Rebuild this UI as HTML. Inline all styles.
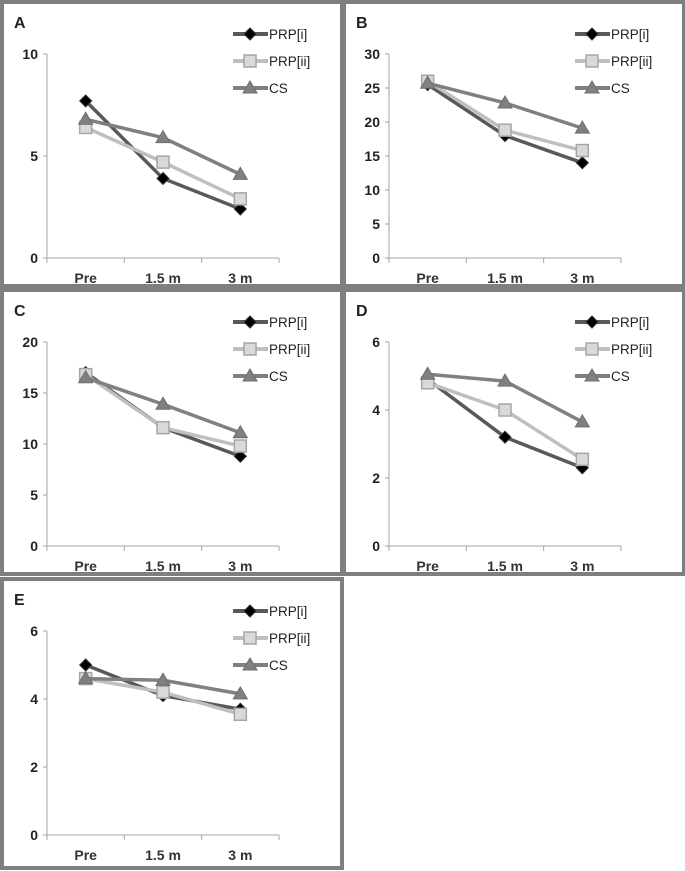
<!DOCTYPE html>
<html><head><meta charset="utf-8"><style>
body{margin:0;background:#fff;}
svg{display:block;font-family:"Liberation Sans",sans-serif;}
</style></head><body>
<svg id="chart" width="685" height="871" viewBox="0 0 685 871" xmlns="http://www.w3.org/2000/svg"></svg>
<script>
const categories = ["Pre", "1.5 m", "3 m"];
const seriesNames = ["PRP[i]", "PRP[ii]", "CS"];
const panelLabels = ["A", "B", "C", "D", "E"];
const yMaxes = [10, 30, 20, 6, 6];
const yStepsA = [0, 5, 10];
const yStepsB = [0, 5, 10, 15, 20, 25, 30];
const yStepsC = [0, 5, 10, 15, 20];
const yStepsD = [0, 2, 4, 6];
const yStepsE = [0, 2, 4, 6];
const prpI_A = [7.7, 3.9, 2.4], prpII_A = [6.4, 4.7, 2.9], cs_A = [6.8, 5.9, 4.1];
const prpI_B = [25.5, 18, 14], prpII_B = [26, 18.8, 15.8], cs_B = [25.7, 22.8, 19.1];
const prpI_C = [17, 11.6, 8.8], prpII_C = [16.8, 11.6, 9.8], cs_C = [16.5, 13.9, 11.1];
const prpI_D = [4.9, 3.2, 2.3], prpII_D = [4.8, 4.0, 2.55], cs_D = [5.05, 4.85, 3.65];
const prpI_E = [5.0, 4.1, 3.7], prpII_E = [4.6, 4.2, 3.55], cs_E = [4.6, 4.55, 4.15];

const NS = "http://www.w3.org/2000/svg";
const svg = document.getElementById("chart");
function mk(tag, attrs, parent) {
  const e = document.createElementNS(NS, tag);
  for (const k in attrs) e.setAttribute(k, attrs[k]);
  (parent || svg).appendChild(e);
  return e;
}
const panels = [
  {ox:0, oy:0, ticks:yStepsA, data:[prpI_A, prpII_A, cs_A]},
  {ox:342, oy:0, ticks:yStepsB, data:[prpI_B, prpII_B, cs_B]},
  {ox:0, oy:288, ticks:yStepsC, data:[prpI_C, prpII_C, cs_C]},
  {ox:342, oy:288, ticks:yStepsD, data:[prpI_D, prpII_D, cs_D]},
  {ox:0, oy:577, ticks:yStepsE, data:[prpI_E, prpII_E, cs_E]},
];
const lineCol = ["#595959", "#bfbfbf", "#808080"];

function marker(g, s, x, y) {
  let m;
  if (s === 0) m = mk("polygon", {points:`${x},${y-6} ${x+6},${y} ${x},${y+6} ${x-6},${y}`, fill:"#000", stroke:"#333","stroke-width":1}, g);
  else if (s === 1) m = mk("rect", {x:x-6, y:y-6, width:12, height:12, fill:"#d9d9d9", stroke:"#a6a6a6","stroke-width":1.5}, g);
  else m = mk("polygon", {points:`${x},${y-7} ${x+7},${y+5} ${x-7},${y+5}`, fill:"#808080", stroke:"#6e6e6e","stroke-width":1}, g);
  return m;
}

panels.forEach((p, pi) => {
  const g = mk("g", {transform:`translate(${p.ox},${p.oy})`});
  
  
  const frame = mk("rect", {x:2, y:2, width:340, height:(pi===4?289:284), fill:"none", stroke:"#7f7f7f", "stroke-width":4}, g);
  
  
  const lab = mk("text", {x:14, y:28, "font-size":16, "font-weight":"bold", fill:"#222"}, g);
  lab.textContent = panelLabels[pi];
  
  
  const ax0 = 47, ax1 = 279, y0 = 258, y1 = 54;
  const ymax = yMaxes[pi];
  const Y = v => y0 - (v / ymax) * (y0 - y1);
  const bw = (ax1 - ax0) / categories.length;
  const X = i => ax0 + bw * (i + 0.5);
  const yax = mk("line", {x1:ax0, y1:y1, x2:ax0, y2:y0, stroke:"#a6a6a6", "stroke-width":1}, g);
  
  
  const xax = mk("line", {x1:ax0, y1:y0, x2:ax1, y2:y0, stroke:"#a6a6a6", "stroke-width":1}, g);
  
  
  p.ticks.forEach(t => {
    mk("line", {x1:ax0-4, y1:Y(t), x2:ax0, y2:Y(t), stroke:"#a6a6a6"}, g);
    const tl = mk("text", {x:ax0-9, y:Y(t)+5, "font-size":14, "font-weight":"bold", "text-anchor":"end", fill:"#222"}, g);
    tl.textContent = t;
    
    
  });
  for (let i = 0; i <= categories.length; i++) mk("line", {x1:ax0+bw*i, y1:y0, x2:ax0+bw*i, y2:y0+5, stroke:"#a6a6a6"}, g);
  categories.forEach((c, i) => {
    const t = mk("text", {x:X(i), y:y0+25, "font-size":14, "font-weight":"bold", "text-anchor":"middle", fill:"#333"}, g);
    t.textContent = c;
    
    
  });
  p.data.forEach((vals, s) => {
    const pl = mk("polyline", {points: vals.map((v,i)=>`${X(i)},${Y(v)}`).join(" "), fill:"none", stroke:lineCol[s], "stroke-width":3.5}, g);
    
    
    vals.forEach((v,i) => {
      const m = marker(g, s, X(i), Y(v));
      
      
    });
  });
  seriesNames.forEach((n, s) => {
    const ly = 34 + s * 27;
    const ll = mk("line", {x1:233, y1:ly, x2:268, y2:ly, stroke:lineCol[s], "stroke-width":4}, g);
    
    
    marker(g, s, 250, ly);
    const lt = mk("text", {x:269, y:ly+5, "font-size":13.5, fill:"#222"}, g);
    lt.textContent = n;
    
    
  });
});
</script>
</body></html>
